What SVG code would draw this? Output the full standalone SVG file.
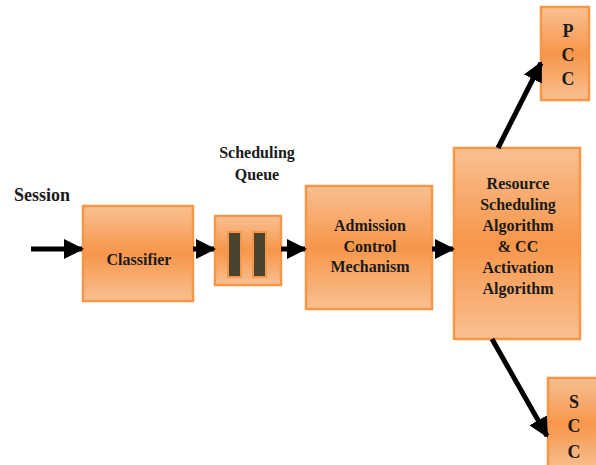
<svg xmlns="http://www.w3.org/2000/svg" width="596" height="465" viewBox="0 0 596 465">
<style>
.box{fill:url(#og);stroke:#f79646;stroke-width:2.5}
text{font-family:'Liberation Serif','Times New Roman',Times,'DejaVu Serif',serif;font-weight:bold;font-size:16px;fill:#1a1a1a;text-anchor:middle}
.big{font-size:18px}
.c{stroke:#000;stroke-width:5;fill:none;marker-end:url(#ah)}
</style>
<defs>
<linearGradient id="og" x1="0" y1="0" x2="0" y2="1">
<stop offset="0" stop-color="#f9c092"/>
<stop offset="0.5" stop-color="#f7964a"/>
<stop offset="1" stop-color="#f9c092"/>
</linearGradient>
<marker id="ah" markerWidth="4" markerHeight="4" refX="3.6" refY="2" orient="auto" markerUnits="strokeWidth">
<path d="M0,0 L4,2 L0,4 Z" fill="#000"/>
</marker>
</defs>
<text x="14" y="201" class="big" style="text-anchor:start">Session</text>
<g id="classifier">
<rect class="box" x="83" y="206" width="110" height="95"/>
<text x="139" y="265">Classifier</text>
</g>
<g id="queue">
<text x="257" y="158">Scheduling</text>
<text x="257" y="180">Queue</text>
<rect class="box" x="215" y="216" width="66" height="69"/>
<rect x="228" y="232" width="13" height="45" fill="#4a4330" stroke="#f79646" stroke-width="2"/>
<rect x="253" y="232" width="13" height="45" fill="#4a4330" stroke="#f79646" stroke-width="2"/>
</g>
<g id="admission">
<rect class="box" x="306" y="186" width="126" height="123"/>
<text x="370" y="231">Admission</text>
<text x="370" y="252">Control</text>
<text x="370" y="272">Mechanism</text>
</g>
<g id="resource">
<rect class="box" x="454" y="148" width="126" height="191"/>
<text x="518" y="189">Resource</text>
<text x="518" y="210">Scheduling</text>
<text x="518" y="231">Algorithm</text>
<text x="518" y="252">&amp; CC</text>
<text x="518" y="273">Activation</text>
<text x="518" y="294">Algorithm</text>
</g>
<g id="pcc">
<rect class="box" x="541" y="7" width="48" height="93"/>
<text x="568" y="37" class="big">P</text>
<text x="568" y="61" class="big">C</text>
<text x="568" y="85" class="big">C</text>
</g>
<g id="scc">
<rect class="box" x="548" y="378" width="50" height="92"/>
<text x="574" y="408" class="big">S</text>
<text x="574" y="432" class="big">C</text>
<text x="574" y="458" class="big">C</text>
</g>
<g id="connectors">
<line class="c" x1="31" y1="249" x2="82" y2="249"/>
<line class="c" x1="193" y1="249" x2="214" y2="249"/>
<line class="c" x1="281" y1="249" x2="305" y2="249"/>
<line class="c" x1="432" y1="249" x2="453" y2="249"/>
<line class="c" x1="498" y1="148" x2="541" y2="63"/>
<line class="c" x1="492" y1="339" x2="547" y2="436"/>
</g>
</svg>
